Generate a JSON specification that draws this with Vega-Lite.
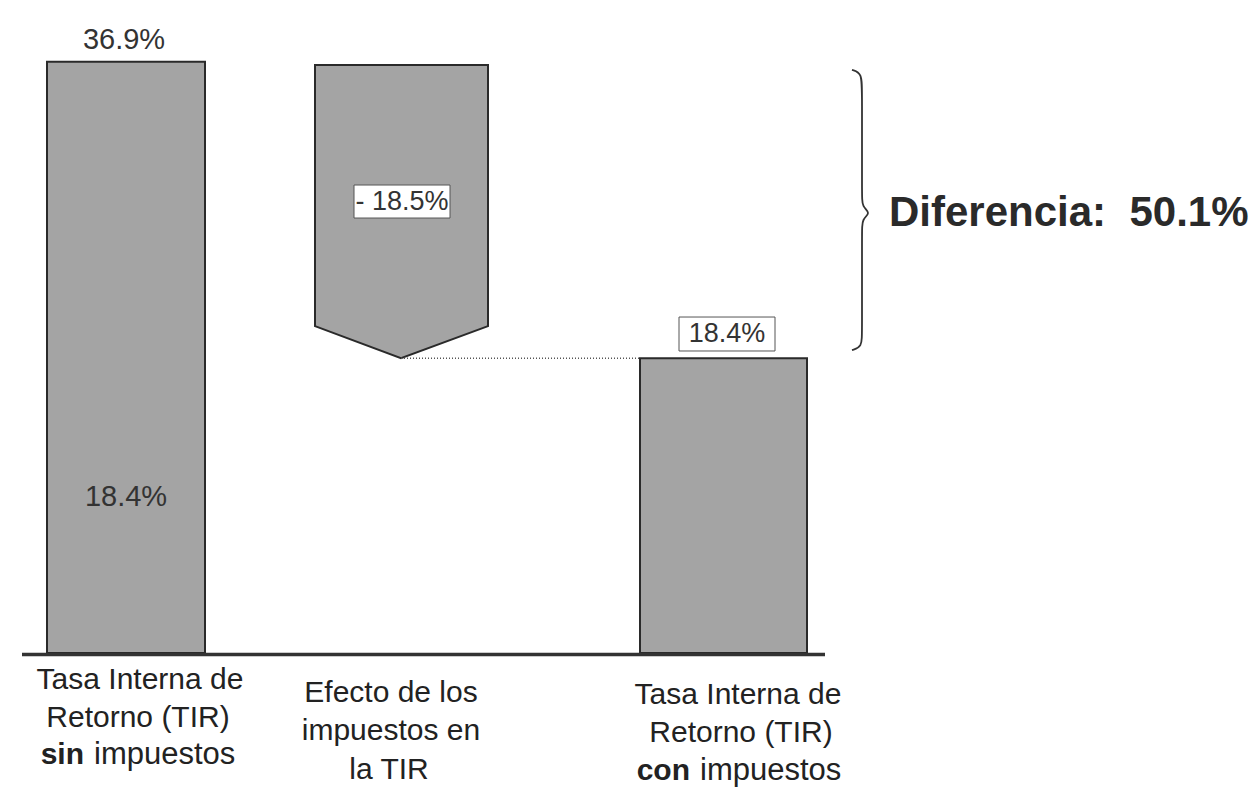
{
  "$schema": "https://vega.github.io/schema/vega-lite/v6.json",
  "width": 1259,
  "height": 788,
  "autosize": {"type": "fit", "contains": "padding"},
  "padding": 0,
  "background": "white",
  "config": {"view": {"stroke": null}, "font": "Liberation Sans"},
  "layer": [
    {
      "data": {"values": [
        {"cat": "TIR sin impuestos", "x": 47, "x2": 205, "y": 0, "y2": 36.9},
        {"cat": "TIR con impuestos", "x": 640, "x2": 807, "y": 0, "y2": 18.4}
      ]},
      "mark": {"type": "rect", "fill": "#a4a4a4", "stroke": "#2a2a2a", "strokeWidth": 2},
      "encoding": {
        "x": {"field": "x", "type": "quantitative", "scale": {"domain": [0, 1259], "nice": false, "zero": false}, "axis": null},
        "x2": {"field": "x2"},
        "y": {"field": "y", "type": "quantitative", "scale": {"domain": [-8.43, 40.76], "nice": false, "zero": false}, "axis": null},
        "y2": {"field": "y2"}
      }
    },
    {
      "data": {"values": [
        {"x": 315, "top": 36.7, "bottom": 20.4},
        {"x": 401, "top": 36.7, "bottom": 18.4},
        {"x": 488, "top": 36.7, "bottom": 20.4}
      ]},
      "mark": {"type": "area", "fill": "#a4a4a4", "fillOpacity": 1, "stroke": "#2a2a2a", "strokeWidth": 2, "orient": "vertical"},
      "encoding": {
        "x": {"field": "x", "type": "quantitative", "scale": {"domain": [0, 1259], "nice": false, "zero": false}, "axis": null},
        "y": {"field": "top", "type": "quantitative", "scale": {"domain": [-8.43, 40.76], "nice": false, "zero": false}, "axis": null},
        "y2": {"field": "bottom"}
      }
    },
    {
      "data": {"values": [{"x": 401, "x2": 640, "y": 18.4}]},
      "mark": {"type": "rule", "stroke": "#555555", "strokeWidth": 1.5, "strokeDash": [1, 2]},
      "encoding": {
        "x": {"field": "x", "type": "quantitative", "scale": {"domain": [0, 1259], "nice": false, "zero": false}, "axis": null},
        "x2": {"field": "x2"},
        "y": {"field": "y", "type": "quantitative", "scale": {"domain": [-8.43, 40.76], "nice": false, "zero": false}, "axis": null}
      }
    },
    {
      "data": {"values": [{"x": 22, "x2": 825, "y": -0.1}]},
      "mark": {"type": "rule", "stroke": "#333333", "strokeWidth": 3.5},
      "encoding": {
        "x": {"field": "x", "type": "quantitative", "scale": {"domain": [0, 1259], "nice": false, "zero": false}, "axis": null},
        "x2": {"field": "x2"},
        "y": {"field": "y", "type": "quantitative", "scale": {"domain": [-8.43, 40.76], "nice": false, "zero": false}, "axis": null}
      }
    },
    {
      "data": {"values": [
        {"x": 354, "x2": 450, "y": 27.15, "y2": 29.21},
        {"x": 679, "x2": 775, "y": 18.85, "y2": 20.97}
      ]},
      "mark": {"type": "rect", "fill": "white", "stroke": "#555555", "strokeWidth": 1},
      "encoding": {
        "x": {"field": "x", "type": "quantitative", "scale": {"domain": [0, 1259], "nice": false, "zero": false}, "axis": null},
        "x2": {"field": "x2"},
        "y": {"field": "y", "type": "quantitative", "scale": {"domain": [-8.43, 40.76], "nice": false, "zero": false}, "axis": null},
        "y2": {"field": "y2"}
      }
    },
    {
      "data": {"values": [
        {"t": "- 18.5%", "x": 402, "y": 28.15},
        {"t": "18.4%", "x": 727, "y": 19.91}
      ]},
      "mark": {"type": "text", "fontSize": 27, "color": "#333333", "baseline": "middle", "align": "center"},
      "encoding": {
        "x": {"field": "x", "type": "quantitative", "scale": {"domain": [0, 1259], "nice": false, "zero": false}, "axis": null},
        "y": {"field": "y", "type": "quantitative", "scale": {"domain": [-8.43, 40.76], "nice": false, "zero": false}, "axis": null},
        "text": {"field": "t"}
      }
    },
    {
      "data": {"values": [
        {"t": "36.9%", "x": 124, "y": 38.26},
        {"t": "18.4%", "x": 126, "y": 9.74}
      ]},
      "mark": {"type": "text", "fontSize": 29, "color": "#333333", "baseline": "middle", "align": "center"},
      "encoding": {
        "x": {"field": "x", "type": "quantitative", "scale": {"domain": [0, 1259], "nice": false, "zero": false}, "axis": null},
        "y": {"field": "y", "type": "quantitative", "scale": {"domain": [-8.43, 40.76], "nice": false, "zero": false}, "axis": null},
        "text": {"field": "t"}
      }
    },
    {
      "data": {"values": [
        {"t": "Tasa Interna de", "x": 140, "y": -1.69},
        {"t": "Retorno (TIR)", "x": 138, "y": -4.06},
        {"t": "Efecto de los", "x": 391, "y": -2.5},
        {"t": "impuestos en", "x": 391, "y": -4.87},
        {"t": "la TIR", "x": 389, "y": -7.3},
        {"t": "Tasa Interna de", "x": 738, "y": -2.62},
        {"t": "Retorno (TIR)", "x": 741, "y": -4.99}
      ]},
      "mark": {"type": "text", "fontSize": 30, "color": "#222222", "baseline": "middle", "align": "center"},
      "encoding": {
        "x": {"field": "x", "type": "quantitative", "scale": {"domain": [0, 1259], "nice": false, "zero": false}, "axis": null},
        "y": {"field": "y", "type": "quantitative", "scale": {"domain": [-8.43, 40.76], "nice": false, "zero": false}, "axis": null},
        "text": {"field": "t"}
      }
    },
    {
      "data": {"values": [
        {"t": "impuestos", "x": 94, "y": -6.37},
        {"t": "impuestos", "x": 700, "y": -7.37}
      ]},
      "mark": {"type": "text", "fontSize": 31, "color": "#222222", "baseline": "middle", "align": "left"},
      "encoding": {
        "x": {"field": "x", "type": "quantitative", "scale": {"domain": [0, 1259], "nice": false, "zero": false}, "axis": null},
        "y": {"field": "y", "type": "quantitative", "scale": {"domain": [-8.43, 40.76], "nice": false, "zero": false}, "axis": null},
        "text": {"field": "t"}
      }
    },
    {
      "data": {"values": [
        {"t": "sin", "x": 84, "y": -6.37},
        {"t": "con", "x": 690, "y": -7.37}
      ]},
      "mark": {"type": "text", "fontSize": 30, "fontWeight": "bold", "color": "#222222", "baseline": "middle", "align": "right"},
      "encoding": {
        "x": {"field": "x", "type": "quantitative", "scale": {"domain": [0, 1259], "nice": false, "zero": false}, "axis": null},
        "y": {"field": "y", "type": "quantitative", "scale": {"domain": [-8.43, 40.76], "nice": false, "zero": false}, "axis": null},
        "text": {"field": "t"}
      }
    },
    {
      "data": {"values": [
        {"i": 0, "x": 852, "y": 36.4},
        {"i": 1, "x": 862, "y": 36.2},
        {"i": 2, "x": 862, "y": 35.0},
        {"i": 3, "x": 862, "y": 28.59},
        {"i": 4, "x": 862, "y": 27.84},
        {"i": 5, "x": 871, "y": 27.47},
        {"i": 6, "x": 862, "y": 27.09},
        {"i": 7, "x": 862, "y": 26.34},
        {"i": 8, "x": 862, "y": 20.0},
        {"i": 9, "x": 862, "y": 19.1},
        {"i": 10, "x": 852, "y": 18.9}
      ]},
      "mark": {"type": "line", "interpolate": "basis", "stroke": "#333333", "strokeWidth": 1.8},
      "encoding": {
        "x": {"field": "x", "type": "quantitative", "scale": {"domain": [0, 1259], "nice": false, "zero": false}, "axis": null},
        "y": {"field": "y", "type": "quantitative", "scale": {"domain": [-8.43, 40.76], "nice": false, "zero": false}, "axis": null},
        "order": {"field": "i", "type": "quantitative"}
      }
    },
    {
      "data": {"values": [{"t": "Diferencia:\u00a0 50.1%", "x": 889, "y": 27.47}]},
      "mark": {"type": "text", "fontSize": 42, "fontWeight": "bold", "color": "#2a2a2a", "baseline": "middle", "align": "left"},
      "encoding": {
        "x": {"field": "x", "type": "quantitative", "scale": {"domain": [0, 1259], "nice": false, "zero": false}, "axis": null},
        "y": {"field": "y", "type": "quantitative", "scale": {"domain": [-8.43, 40.76], "nice": false, "zero": false}, "axis": null},
        "text": {"field": "t"}
      }
    }
  ]
}
